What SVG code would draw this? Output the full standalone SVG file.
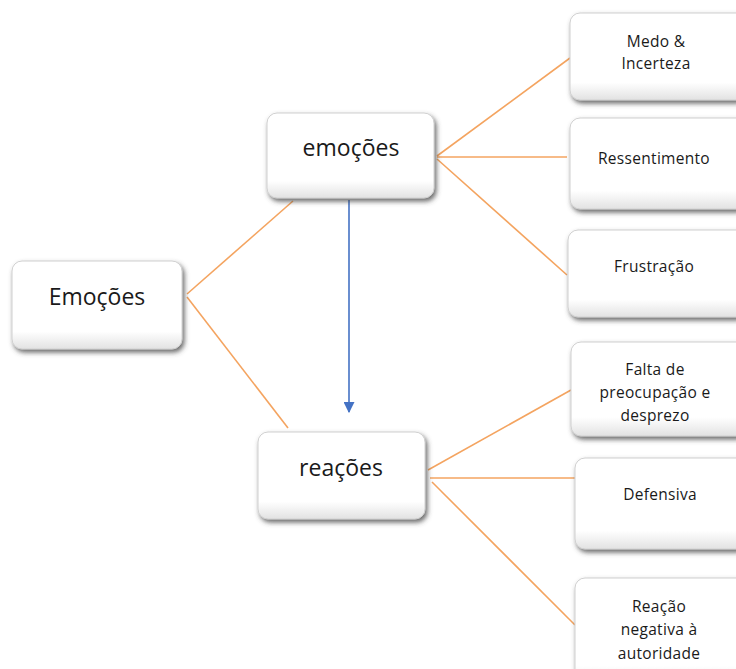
<svg xmlns="http://www.w3.org/2000/svg" width="736" height="669" viewBox="0 0 736 669">
<defs>
<filter id="sh" x="-10%" y="-10%" width="125%" height="130%">
<feDropShadow dx="2" dy="3" stdDeviation="2.5" flood-color="#444" flood-opacity="0.8"/>
</filter>
<linearGradient id="bev" x1="0" y1="0" x2="0" y2="1">
<stop offset="0" stop-color="#ffffff"/>
<stop offset="0.8" stop-color="#ffffff"/>
<stop offset="1" stop-color="#e2e2e2"/>
</linearGradient>
<marker id="arr" viewBox="0 0 10 10" refX="9" refY="5" markerWidth="11" markerHeight="11" markerUnits="userSpaceOnUse" orient="auto">
<path d="M0,0 L10,5 L0,10 z" fill="#4472C4"/>
</marker>
</defs>
<style>
.box{fill:url(#bev);stroke:#d0d0d0;stroke-width:1;filter:url(#sh)}
.big{font-family:"Open Sans","Liberation Sans",sans-serif;font-size:23px;fill:#1a1a1a;text-anchor:middle}
.sm{font-family:"Open Sans","Liberation Sans",sans-serif;font-size:15.5px;letter-spacing:0.3px;fill:#1a1a1a;text-anchor:middle}
.con{stroke:#F4A460;stroke-width:1.6;fill:none}
</style>
<rect width="736" height="669" fill="#fff"/>
<g id="connectors">
<line class="con" x1="187" y1="294" x2="293" y2="201"/>
<line class="con" x1="187" y1="297" x2="288" y2="428"/>
<line class="con" x1="437" y1="156" x2="570" y2="58"/>
<line class="con" x1="437" y1="157" x2="567" y2="157"/>
<line class="con" x1="437" y1="159" x2="567" y2="275"/>
<line class="con" x1="428" y1="470" x2="571" y2="390"/>
<line class="con" x1="430" y1="478" x2="576" y2="478"/>
<line class="con" x1="432" y1="482" x2="575" y2="625"/>
<line x1="349" y1="200" x2="349" y2="412" stroke="#4472C4" stroke-width="1.6" marker-end="url(#arr)"/>
</g>
<g id="n-emocoes-root">
<rect class="box" x="12" y="261" width="170" height="88" rx="10"/>
<text class="big" x="97" y="299" dominant-baseline="middle">Emoções</text>
</g>
<g id="n-emocoes">
<rect class="box" x="267" y="113" width="167" height="85" rx="10"/>
<text class="big" x="351" y="150" dominant-baseline="middle">emoções</text>
</g>
<g id="n-reacoes">
<rect class="box" x="258" y="432" width="167" height="87" rx="10"/>
<text class="big" x="341" y="470" dominant-baseline="middle">reações</text>
</g>
<g id="n-medo">
<rect class="box" x="570" y="13" width="176" height="87" rx="10"/>
<text class="sm" x="656" y="47">Medo &amp;</text>
<text class="sm" x="656" y="69">Incerteza</text>
</g>
<g id="n-ressentimento">
<rect class="box" x="570" y="118" width="176" height="91" rx="10"/>
<text class="sm" x="654" y="164">Ressentimento</text>
</g>
<g id="n-frustracao">
<rect class="box" x="568" y="230" width="178" height="87" rx="10"/>
<text class="sm" x="654" y="272">Frustração</text>
</g>
<g id="n-falta">
<rect class="box" x="571" y="342" width="175" height="94" rx="10"/>
<text class="sm" x="655" y="375">Falta de</text>
<text class="sm" x="655" y="398">preocupação e</text>
<text class="sm" x="655" y="421">desprezo</text>
</g>
<g id="n-defensiva">
<rect class="box" x="575" y="458" width="171" height="91" rx="10"/>
<text class="sm" x="660" y="500">Defensiva</text>
</g>
<g id="n-reacao">
<rect class="box" x="575" y="578" width="171" height="110" rx="10"/>
<text class="sm" x="659" y="612">Reação</text>
<text class="sm" x="659" y="635">negativa à</text>
<text class="sm" x="659" y="659">autoridade</text>
</g>
</svg>
